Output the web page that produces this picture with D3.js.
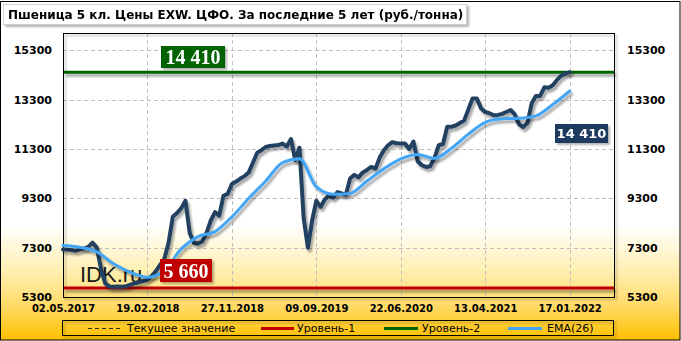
<!DOCTYPE html>
<html>
<head>
<meta charset="utf-8">
<script src="https://cdn.jsdelivr.net/npm/d3@7"></script>
<style>
  body { margin: 0; background: #fff; }
  svg { display: block; }
</style>
</head>
<body>
<div id="chart"></div>
<script>
// Tick labels (one every 40 weeks)
var dateLabels = ["02.05.2017", "19.02.2018", "27.11.2018", "09.09.2019", "22.06.2020", "13.04.2021", "17.01.2022"];
var yTicks = [5300, 7300, 9300, 11300, 13300, 15300];

// Price, one value every 2 weeks (index step 2)
var priceStep = 2;
var price = [
  7230, 7220, 7200, 7170, 7230, 7260, 7330, 7500, 7300, 6450,
  5850, 5730, 5720, 5730, 5720, 5740, 5800, 5860, 5900, 5950,
  6000, 6150, 6350, 6600, 6850, 7500, 8550, 8700, 8900, 9200,
  7900, 7500, 7460, 7550, 7900, 8400, 8740, 8600, 9400, 9480,
  9880, 9980, 10100, 10200, 10350, 10750, 11150, 11250, 11380, 11420,
  11440, 11460, 11520, 11400, 11700, 10850, 11350, 8500, 7300, 8400,
  9200, 8950, 9250, 9400, 9330, 9550, 9500, 9450, 10100, 10250,
  10150, 10350, 10450, 10570, 10500, 10950, 11250, 11450, 11580, 11530,
  11520, 11520, 11300, 11600, 10800, 10640, 10570, 10600, 10950, 11450,
  11500, 12200, 12200, 12250, 12350, 12450, 12900, 13350, 13350, 12950,
  12800, 12750, 12670, 12680, 12720, 12800, 12880, 12700, 12300, 12190,
  12350, 13150, 13450, 13450, 13800, 13780, 13880, 14100, 14270, 14350,
  14410
];

// EMA(26), one value every 8 weeks
var emaStep = 8;
var ema = [
  7390, 7320, 7130, 6650, 6300, 6100, 6370, 7250, 7750, 7950,
  8550, 9300, 10000, 10750, 10900, 9770, 9460, 9500, 10000, 10500,
  10900, 11080, 10920, 11330, 11900, 12380, 12520, 12540, 12640, 13100,
  13650
];

var lastValue = 14410;   // Уровень-2 / текущее значение
var lowValue = 5660;     // Уровень-1

var W = 681, H = 341;
var plot = {left: 63, right: 614, top: 33, bottom: 297};

var svg = d3.select("#chart").append("svg")
  .attr("width", W)
  .attr("height", H);

var defs = svg.append("defs");

var grad = defs.append("linearGradient")
  .attr("id", "bg")
  .attr("x1", 0).attr("y1", 0).attr("x2", 0).attr("y2", 1);
grad.append("stop").attr("offset", 0).attr("stop-color", "#ffffff");
grad.append("stop").attr("offset", 0.66).attr("stop-color", "#ffffff");
grad.append("stop").attr("offset", 0.79).attr("stop-color", "#fff0b5");
grad.append("stop").attr("offset", 0.9).attr("stop-color", "#ffda66");
grad.append("stop").attr("offset", 1).attr("stop-color", "#ffc000");

// shadows in user space so flat lines keep them
function makeShadow(id, dx, dy, sd, op) {
  var f = defs.append("filter")
    .attr("id", id)
    .attr("filterUnits", "userSpaceOnUse")
    .attr("x", 0).attr("y", 0).attr("width", W).attr("height", H);
  f.append("feDropShadow")
    .attr("dx", dx).attr("dy", dy).attr("stdDeviation", sd)
    .attr("flood-color", "#000").attr("flood-opacity", op);
}
makeShadow("shadow", 2, 3, 1.3, 0.35);
makeShadow("shadowSmall", 2, 2, 1, 0.3);

// Background and outer frame
svg.append("rect")
  .attr("x", 0.5).attr("y", 1.5)
  .attr("width", W - 1.5).attr("height", H - 2.5)
  .attr("fill", "url(#bg)")
  .attr("stroke", "#000");

// Scales
var x = d3.scaleLinear().domain([0, 261]).range([plot.left, plot.right]);
var y = d3.scaleLinear().domain([5300, 16000]).range([plot.bottom, plot.top]);
var xTicks = dateLabels.map(function(d, i) { return i * 40; });

// Gridlines
var grid = svg.append("g").attr("class", "grid");
grid.selectAll("line.h")
  .data(yTicks.filter(function(d) { return d > 5300; }))
  .enter().append("line")
  .attr("x1", plot.left).attr("x2", plot.right)
  .attr("y1", function(d) { return Math.round(y(d)) + 0.5; })
  .attr("y2", function(d) { return Math.round(y(d)) + 0.5; })
  .attr("stroke", "#c0c0c0")
  .attr("stroke-dasharray", "4,3");
grid.selectAll("line.v")
  .data(xTicks.slice(1))
  .enter().append("line")
  .attr("x1", function(d) { return Math.round(x(d)) + 0.5; })
  .attr("x2", function(d) { return Math.round(x(d)) + 0.5; })
  .attr("y1", plot.top).attr("y2", plot.bottom)
  .attr("stroke", "#c0c0c0")
  .attr("stroke-dasharray", "4,3");

// Plot border
svg.append("rect")
  .attr("x", plot.left + 0.5).attr("y", plot.top + 0.5)
  .attr("width", plot.right - plot.left).attr("height", plot.bottom - plot.top)
  .attr("fill", "none")
  .attr("stroke", "#000")
  .attr("filter", "url(#shadowSmall)");

// Axes
function styleAxis(g) {
  g.select(".domain").remove();
  g.selectAll(".tick line").remove();
  g.selectAll("text")
    .attr("fill", "#000")
    .attr("font-family", "DejaVu Sans")
    .attr("font-weight", "bold");
}

svg.append("g")
  .attr("transform", "translate(" + (plot.left - 11) + ",0)")
  .call(d3.axisLeft(y).tickValues(yTicks).tickSize(0).tickPadding(0).tickFormat(d3.format("d")))
  .call(styleAxis)
  .selectAll("text").attr("font-size", 11);

svg.append("g")
  .attr("transform", "translate(" + (plot.right + 13) + ",0)")
  .call(d3.axisRight(y).tickValues(yTicks).tickSize(0).tickPadding(0).tickFormat(d3.format("d")))
  .call(styleAxis)
  .selectAll("text").attr("font-size", 11);

svg.append("g")
  .attr("transform", "translate(0," + (plot.bottom + 7.5) + ")")
  .call(d3.axisBottom(x).tickValues(xTicks).tickSize(0).tickPadding(0)
    .tickFormat(function(d, i) { return dateLabels[i]; }))
  .call(styleAxis)
  .selectAll("text").attr("font-size", 10);

// Levels
var levels = [
  {value: lowValue, color: "#c00000"},
  {value: lastValue, color: "#006400"}
];
svg.selectAll("line.level")
  .data(levels)
  .enter().append("line")
  .attr("class", "level")
  .attr("x1", plot.left + 1).attr("x2", plot.right)
  .attr("y1", function(d) { return y(d.value); })
  .attr("y2", function(d) { return y(d.value); })
  .attr("stroke", function(d) { return d.color; })
  .attr("stroke-width", 3)
  .attr("filter", "url(#shadow)");

// Watermark
svg.append("text")
  .attr("x", 80).attr("y", 282)
  .attr("font-family", "Liberation Sans")
  .attr("font-size", 22)
  .attr("fill", "#1a1a1a")
  .text("IDK.ru");

// EMA and price lines
var emaLine = d3.line()
  .x(function(d, i) { return x(i * emaStep); })
  .y(function(d) { return y(d); })
  .curve(d3.curveMonotoneX);

var priceLine = d3.line()
  .x(function(d, i) { return x(i * priceStep); })
  .y(function(d) { return y(d); });

svg.append("path")
  .datum(price)
  .attr("fill", "none")
  .attr("stroke", "#243f60")
  .attr("stroke-width", 4)
  .attr("stroke-linejoin", "round")
  .attr("stroke-linecap", "round")
  .attr("filter", "url(#shadow)")
  .attr("d", priceLine);

svg.append("path")
  .datum(ema)
  .attr("fill", "none")
  .attr("stroke", "#42a5f5")
  .attr("stroke-width", 3)
  .attr("stroke-linejoin", "round")
  .attr("stroke-linecap", "round")
  .attr("filter", "url(#shadow)")
  .attr("d", emaLine);

// Value labels
function valueLabel(px, py, w, h, fill, txt, font, size) {
  var g = svg.append("g").attr("filter", "url(#shadowSmall)");
  g.append("rect")
    .attr("x", px).attr("y", py).attr("width", w).attr("height", h)
    .attr("fill", fill);
  g.append("text")
    .attr("x", px + w / 2).attr("y", py + h / 2)
    .attr("dy", "0.36em")
    .attr("text-anchor", "middle")
    .attr("font-family", font)
    .attr("font-weight", "bold")
    .attr("font-size", size)
    .attr("fill", "#fff")
    .text(txt);
}
var fmt = function(v) { return d3.format(",")(v).replace(",", " "); };
valueLabel(161, 46, 64, 22, "#006400", fmt(lastValue), "Liberation Serif", 20);
valueLabel(160, 259, 52, 23, "#c00000", fmt(lowValue), "Liberation Serif", 20);
valueLabel(555, 124, 53, 19, "#1f3a5f", fmt(price[price.length - 1]), "DejaVu Sans", 13);

// Title
var title = svg.append("g").attr("filter", "url(#shadowSmall)");
title.append("rect")
  .attr("x", 3.5).attr("y", 4.5).attr("width", 463).attr("height", 20)
  .attr("fill", "#fff").attr("stroke", "#d0d0d0");
title.append("text")
  .attr("x", 8).attr("y", 19)
  .attr("font-family", "DejaVu Sans")
  .attr("font-weight", "bold")
  .attr("font-size", 12)
  .attr("fill", "#000")
  .text("Пшеница 5 кл. Цены EXW. ЦФО. За последние 5 лет (руб./тонна)");

// Legend
var legend = svg.append("g");
legend.append("rect")
  .attr("x", 62.5).attr("y", 320.5).attr("width", 551).attr("height", 15)
  .attr("fill", "none").attr("stroke", "#000")
  .attr("filter", "url(#shadowSmall)");

var legendItems = [
  {label: "Текущее значение", color: "#333", x1: 88, x2: 122, tx: 127, dash: "4,3", w: 1},
  {label: "Уровень-1", color: "#c00000", x1: 261, x2: 294, tx: 297, dash: null, w: 3},
  {label: "Уровень-2", color: "#006400", x1: 384, x2: 418, tx: 422, dash: null, w: 3},
  {label: "EMA(26)", color: "#42a5f5", x1: 508, x2: 542, tx: 547, dash: null, w: 3}
];
var li = legend.selectAll("g.item")
  .data(legendItems)
  .enter().append("g");
li.append("line")
  .attr("x1", function(d) { return d.x1; })
  .attr("x2", function(d) { return d.x2; })
  .attr("y1", 328.5).attr("y2", 328.5)
  .attr("stroke", function(d) { return d.color; })
  .attr("stroke-width", function(d) { return d.w; })
  .attr("stroke-dasharray", function(d) { return d.dash; });
li.append("text")
  .attr("x", function(d) { return d.tx; })
  .attr("y", 332)
  .attr("font-family", "DejaVu Sans")
  .attr("font-size", 11)
  .attr("fill", "#000")
  .text(function(d) { return d.label; });
</script>
</body>
</html>
